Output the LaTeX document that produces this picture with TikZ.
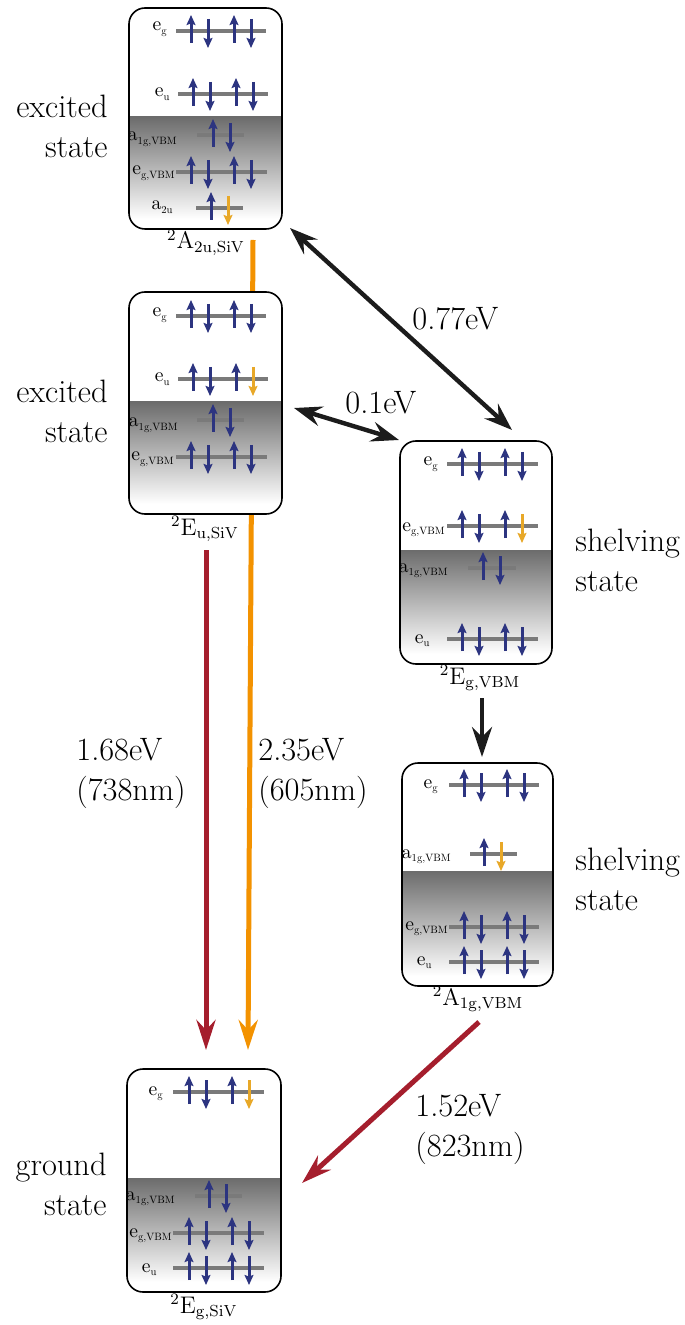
\documentclass[tikz,border=0pt]{standalone}
\usepackage{graphicx}
\usetikzlibrary{arrows.meta,fit}
\definecolor{lvlgray}{RGB}{122,122,122}
\definecolor{spinblue}{RGB}{44,52,128}
\definecolor{spinorange}{RGB}{232,168,40}
\definecolor{bigorange}{RGB}{243,146,0}
\definecolor{bigred}{RGB}{165,30,45}
\definecolor{arrowblack}{RGB}{28,28,28}
\definecolor{gtop}{RGB}{108,108,108}
\tikzset{
  lvl/.style={draw=lvlgray, line width=1.8pt},
  spin/.style={line width=1.5pt, -{Stealth[length=5pt,width=4.4pt,inset=0.8pt]}},
  boxframe/.style={draw=black, line width=0.8pt, rounded corners=8pt, inner sep=0pt},
  big/.style={font=\fontsize{16.2}{20}\selectfont, inner sep=0pt},
  lab/.style={anchor=base east, inner sep=0pt},
  slab/.style={font=\fontsize{12}{14}\selectfont, anchor=base, inner sep=0pt},
  bigarrow/.style={line width=2.5pt, -{Stealth[length=15pt,width=9.5pt,inset=5pt]}},
  blackarrow/.style={draw=arrowblack, line width=2.2pt, {Stealth[length=14pt,width=10pt,inset=5pt]}-{Stealth[length=14pt,width=10pt,inset=5pt]}},
}
\newcommand\SBox[6]{%
  \fill[white,rounded corners=8pt] (#2,#3) rectangle (#4,#5);
  \begin{scope}
    \clip[rounded corners=8pt] (#2,#3) rectangle (#4,#5);
    \shade[top color=gtop,bottom color=white] (#2,#6) rectangle (#4,#5-10);
  \end{scope}
  \node[boxframe, fit={(#2,#3)(#4,#5)}] (#1) {};}
\newcommand\Lvl[3]{\draw[lvl] (#1,#3) -- (#2,#3);}
\newcommand\Up[2]{\draw[spin,draw=spinblue] (#1,#2+12) -- (#1,#2-16);}
\newcommand\Dn[3]{\draw[spin,draw=#3] (#1,#2-12) -- (#1,#2+17);}
\newcommand\Four[3]{\Up{#1}{#2}\Dn{#1+17}{#2}{spinblue}\Up{#1+43}{#2}\Dn{#1+60}{#2}{#3}}
\newcommand\Two[3]{\Up{#1}{#2}\Dn{#1+17}{#2}{#3}}
\newcommand\Sym[2]{{\fontsize{9.8}{10}\selectfont #1}\raisebox{-1.6pt}{\scalebox{0.56}{\fontsize{9.5}{10}\selectfont #2}}}
\newcommand\Lab[4]{\node[lab] (lab-#1-#2) at (#1,#2) {\Sym{#3}{#4}};}
\begin{document}
\begin{tikzpicture}[x=0.5pt,y=-0.5pt]
\useasboundingbox (0,0) rectangle (684,1325);

% transitions drawn behind boxes
\coordinate (oS) at (253,240);
\coordinate (oE) at (248,1050);
\draw[bigarrow, draw=bigorange] (oS) -- (oE);
\coordinate (rS) at (206,550);
\coordinate (rE) at (206,1050);
\draw[bigarrow, draw=bigred] (rS) -- (rE);

% Box 1: 2A2u,SiV
\SBox{A2u}{129}{8}{282}{229}{117}
\Lvl{176}{266}{31}\Four{191}{31}{spinblue}
\Lvl{178}{268}{94}\Four{193}{94}{spinblue}
\Lvl{197}{244}{135}\Two{213}{135}{spinblue}
\Lvl{176}{267}{172}\Four{191}{172}{spinblue}
\Lvl{196}{243}{208}\Two{211}{208}{spinorange}
\Lab{167}{31}{e}{g}
\Lab{170}{97}{e}{u}
\Lab{177}{141}{a}{1g,VBM}
\Lab{175}{175}{e}{g,VBM}
\Lab{173}{210}{a}{2u}
\node[slab] (A2u-name) at (206,249) {$^{2}\mathrm{A}_{\mathrm{2u,SiV}}$};

% Box 2: 2Eu,SiV
\SBox{Eu}{129}{292}{282}{514}{402}
\Lvl{176}{266}{316}\Four{191}{316}{spinblue}
\Lvl{178}{268}{379}\Four{193}{379}{spinorange}
\Lvl{197}{244}{420}\Two{213}{420}{spinblue}
\Lvl{176}{267}{457}\Four{191}{457}{spinblue}
\Lab{167}{317}{e}{g}
\Lab{170}{382}{e}{u}
\Lab{178}{427}{a}{1g,VBM}
\Lab{174}{461}{e}{g,VBM}
\node[slab] (Eu-name) at (205,535) {$^{2}\mathrm{E}_{\mathrm{u,SiV}}$};

% Box 3: 2Eg,VBM
\SBox{EgV}{400}{441}{552}{664}{550}
\Lvl{447}{538}{464}\Four{462}{464}{spinblue}
\Lvl{447}{538}{526}\Four{462}{526}{spinorange}
\Lvl{468}{516}{568}\Two{483}{568}{spinblue}
\Lvl{447}{538}{639}\Four{462}{639}{spinblue}
\Lab{438}{466}{e}{g}
\Lab{445}{531}{e}{g,VBM}
\Lab{448}{572}{a}{1g,VBM}
\Lab{430}{643}{e}{u}
\node[slab] (EgV-name) at (480,684) {$^{2}\mathrm{E}_{\mathrm{g,VBM}}$};

% Box 4: 2A1g,VBM
\SBox{A1g}{402}{763}{553}{986}{871}
\Lvl{449}{539}{785}\Four{464}{785}{spinblue}
\Lvl{470}{517}{854}\Two{484}{854}{spinorange}
\Lvl{449}{539}{927}\Four{464}{927}{spinblue}
\Lvl{449}{539}{962}\Four{464}{962}{spinblue}
\Lab{438}{788}{e}{g}
\Lab{451}{858}{a}{1g,VBM}
\Lab{448}{930}{e}{g,VBM}
\Lab{432}{965}{e}{u}
\node[slab] (A1g-name) at (478,1005) {$^{2}\mathrm{A}_{\mathrm{1g,VBM}}$};

% Box 5: 2Eg,SiV
\SBox{Eg}{127}{1069}{281}{1292}{1178}
\Lvl{173}{264}{1092}\Four{189}{1092}{spinorange}
\Lvl{195}{242}{1196}\Two{209}{1196}{spinblue}
\Lvl{173}{264}{1233}\Four{189}{1233}{spinblue}
\Lvl{173}{264}{1268}\Four{189}{1268}{spinblue}
\Lab{163}{1095}{e}{g}
\Lab{175}{1200}{a}{1g,VBM}
\Lab{172}{1237}{e}{g,VBM}
\Lab{157}{1272}{e}{u}
\node[slab] (Eg-name) at (204,1313) {$^{2}\mathrm{E}_{\mathrm{g,SiV}}$};

% black transitions
\coordinate (k1S) at (290,228);
\coordinate (k1E) at (512,430);
\draw[blackarrow] (k1S) -- (k1E);
\coordinate (k2S) at (294,408);
\coordinate (k2E) at (399,440);
\draw[blackarrow] (k2S) -- (k2E);
\coordinate (k3S) at (482,698);
\coordinate (k3E) at (482,757);
\draw[draw=arrowblack, line width=2.2pt, -{Stealth[length=15pt,width=10pt,inset=5pt]}] (k3S) -- (k3E);
\coordinate (r2S) at (479,1022);
\coordinate (r2E) at (302,1183);
\draw[bigarrow, draw=bigred] (r2S) -- (r2E);

% texts (base anchor = last line baseline)
\node[big, anchor=base east, align=right] (t-exc1) at (108,158) {excited\\state};
\node[big, anchor=base east, align=right] (t-exc2) at (108,443) {excited\\state};
\node[big, anchor=base east, align=right] (t-gnd) at (107,1215) {ground\\state};
\node[big, anchor=base west, align=left] (t-shv1) at (575,591) {shelving\\state};
\node[big, anchor=base west, align=left] (t-shv2) at (575,910) {shelving\\state};
\node[big, anchor=base west] (t-077) at (412,330) {0.77eV};
\node[big, anchor=base west] (t-01) at (345,414) {0.1eV};
\node[big, anchor=base west, align=left] (t-168) at (76,800) {1.68eV\\(738nm)};
\node[big, anchor=base west, align=left] (t-235) at (258,800) {2.35eV\\(605nm)};
\node[big, anchor=base west, align=left] (t-152) at (415,1156) {1.52eV\\(823nm)};
\end{tikzpicture}
\end{document}
